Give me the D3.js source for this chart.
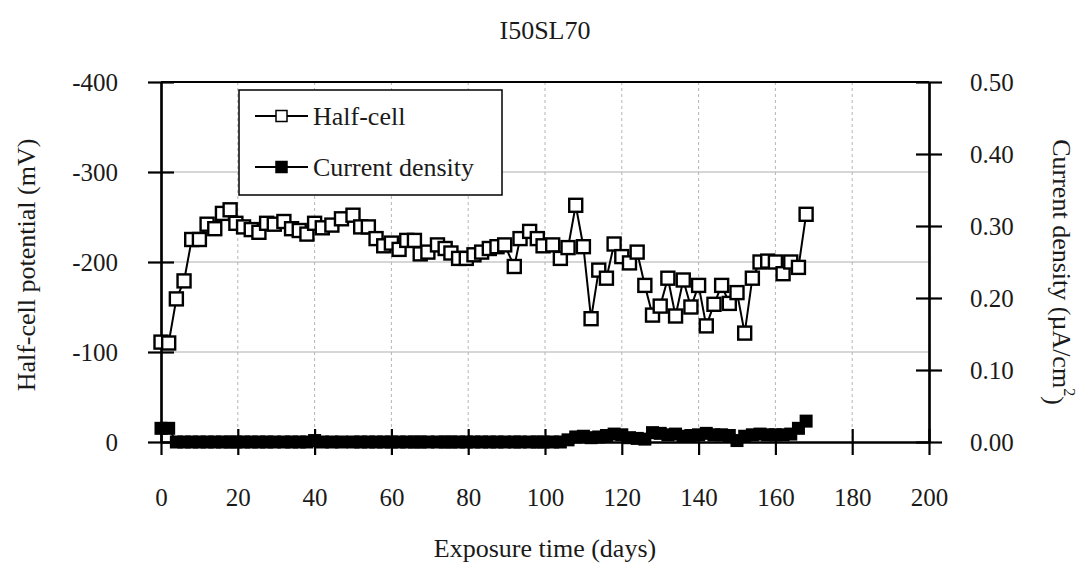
<!DOCTYPE html>
<html>
<head>
<meta charset="utf-8">
<script src="https://cdn.jsdelivr.net/npm/d3@7"></script>
<style>
	body { margin: 0; background: #fff; }
	svg { display: block; font-family: "Liberation Serif", "Times New Roman", serif; }
	.grid_h line { stroke: #c8c8c8; stroke-width: 1.5; }
	.grid_v line { stroke: #b4b4b4; stroke-width: 1; stroke-dasharray: 3,3; }
	.axis path, .axis line { stroke: #000; stroke-width: 2.2; }
	.axis text { font-family: "Liberation Serif", "Times New Roman", serif; font-size: 25px; fill: #1a1a1a; }
</style>
</head>
<body>
<svg width="1089" height="577"></svg>
<script>
'use strict';

var title = 'I50SL70';
var x_ticks = [0, 20, 40, 60, 80, 100, 120, 140, 160, 180, 200];
var left_ticks = [0, -100, -200, -300, -400];
var right_ticks = [0, 0.1, 0.2, 0.3, 0.4, 0.5];

// exposure time (days)
var days = [0, 2, 4, 6, 8, 10, 12, 14, 16, 18, 19.5, 21.5, 23.5, 25.5, 27.5, 29.5, 32, 34, 36, 38,
	40, 42, 44.5, 47, 50, 52, 54, 56, 58, 60, 62, 64, 66, 67.5, 69.5, 72, 74, 75.5, 77.5, 79.5,
	81.5, 83.5, 85.5, 87.5, 89.5, 92, 93.5, 96, 98, 99.5, 102, 104, 106, 108, 110, 112, 114, 116, 118, 120,
	122, 124, 126, 128, 130, 132, 134, 136, 138, 140, 142, 144, 146, 148, 150, 152, 154, 156, 158, 160,
	162, 164, 166, 168];

// half-cell potential (mV)
var half_cell = [-111, -110, -159, -179, -225, -225, -242, -237, -254, -258, -243, -239, -236, -233, -243, -242, -245, -237, -235, -231,
	-243, -238, -241, -248, -252, -239, -239, -226, -218, -221, -214, -224, -224, -209, -211, -219, -215, -210, -204, -204,
	-208, -211, -215, -217, -219, -195, -226, -234, -226, -218, -219, -204, -216, -263, -217, -137, -191, -182, -220, -206,
	-199, -211, -174, -141, -151, -182, -140, -180, -150, -174, -129, -153, -174, -154, -166, -121, -182, -200, -201, -200,
	-187, -200, -194, -253];

// current density (uA/cm2)
var current_density = [0.019, 0.019, 0, 0, 0, 0, 0, 0, 0, 0, 0, 0, 0, 0, 0, 0, 0, 0, 0, 0,
	0.002, 0, 0, 0, 0, 0, 0, 0, 0, 0, 0, 0, 0, 0, 0, 0, 0, 0, 0, 0,
	0, 0, 0, 0, 0, 0, 0, 0, 0, 0, 0, 0, 0.003, 0.007, 0.008, 0.006, 0.007, 0.009, 0.011, 0.010,
	0.006, 0.005, 0.004, 0.013, 0.012, 0.010, 0.011, 0.008, 0.009, 0.010, 0.012, 0.010, 0.010, 0.009, 0.002, 0.008, 0.010, 0.011, 0.010, 0.010,
	0.010, 0.011, 0.019, 0.029];

var legend_labels = ['Half-cell', 'Current density'];

var plot = {left: 161, right: 929, top: 82, bottom: 442};

var svg = d3.select('svg');

var axis_x = d3.scaleLinear().domain([0, 200]).range([plot.left, plot.right]);
var axis_y = d3.scaleLinear().domain([0, -400]).range([plot.bottom, plot.top]);
var axis_y2 = d3.scaleLinear().domain([0, 0.5]).range([plot.bottom, plot.top]);

// Grid
svg.append('g')
	.attr('class', 'grid_h')
	.selectAll('line')
	.data(left_ticks.filter(function(d) { return d !== 0 && d !== -400; }))
	.enter().append('line')
	.attr('x1', plot.left).attr('x2', plot.right)
	.attr('y1', function(d) { return axis_y(d); })
	.attr('y2', function(d) { return axis_y(d); });

svg.append('g')
	.attr('class', 'grid_v')
	.selectAll('line')
	.data(x_ticks.filter(function(d) { return d !== 0 && d !== 200; }))
	.enter().append('line')
	.attr('y1', plot.top).attr('y2', plot.bottom)
	.attr('x1', function(d) { return axis_x(d); })
	.attr('x2', function(d) { return axis_x(d); });

// Axes (ticks cross the axis line, so draw an inner set too)
var tick_len = 13;

var gx = svg.append('g')
	.attr('class', 'axis')
	.attr('transform', 'translate(0,' + plot.bottom + ')')
	.call(d3.axisBottom(axis_x).tickValues(x_ticks).tickSize(tick_len).tickSizeOuter(0));
gx.selectAll('text').attr('y', 55).attr('dy', '0.35em');
svg.append('g')
	.attr('class', 'axis')
	.attr('transform', 'translate(0,' + plot.bottom + ')')
	.call(d3.axisBottom(axis_x).tickValues(x_ticks).tickSize(-tick_len).tickSizeOuter(0).tickFormat(''));

var gl = svg.append('g')
	.attr('class', 'axis')
	.attr('transform', 'translate(' + plot.left + ',0)')
	.call(d3.axisLeft(axis_y).tickValues(left_ticks).tickSize(tick_len).tickSizeOuter(0)
		.tickFormat(function(d) { return String(d); }));
gl.selectAll('text').attr('x', -43);
svg.append('g')
	.attr('class', 'axis')
	.attr('transform', 'translate(' + plot.left + ',0)')
	.call(d3.axisLeft(axis_y).tickValues(left_ticks).tickSize(-tick_len).tickSizeOuter(0).tickFormat(''));

var gr = svg.append('g')
	.attr('class', 'axis')
	.attr('transform', 'translate(' + plot.right + ',0)')
	.call(d3.axisRight(axis_y2).tickValues(right_ticks).tickSize(tick_len).tickSizeOuter(0)
		.tickFormat(d3.format('.2f')));
gr.selectAll('text').attr('x', 41);
svg.append('g')
	.attr('class', 'axis')
	.attr('transform', 'translate(' + plot.right + ',0)')
	.call(d3.axisRight(axis_y2).tickValues(right_ticks).tickSize(-tick_len).tickSizeOuter(0).tickFormat(''));

// top frame line
svg.append('line')
	.attr('x1', plot.left).attr('x2', plot.right)
	.attr('y1', plot.top).attr('y2', plot.top)
	.attr('stroke', '#000').attr('stroke-width', 2.2);

// Series
var half_data = days.map(function(d, i) { return {x: d, y: half_cell[i]}; });
var cd_data = days.map(function(d, i) { return {x: d, y: current_density[i]}; });

var m = 13;

svg.append('path')
	.datum(half_data)
	.attr('fill', 'none')
	.attr('stroke', '#000')
	.attr('stroke-width', 2)
	.attr('d', d3.line()
		.x(function(d) { return axis_x(d.x); })
		.y(function(d) { return axis_y(d.y); }));

svg.append('g')
	.selectAll('rect')
	.data(half_data)
	.enter().append('rect')
	.attr('x', function(d) { return axis_x(d.x) - m / 2; })
	.attr('y', function(d) { return axis_y(d.y) - m / 2; })
	.attr('width', m).attr('height', m)
	.attr('fill', '#fff')
	.attr('stroke', '#000')
	.attr('stroke-width', 2.4);

svg.append('path')
	.datum(cd_data)
	.attr('fill', 'none')
	.attr('stroke', '#000')
	.attr('stroke-width', 2)
	.attr('d', d3.line()
		.x(function(d) { return axis_x(d.x); })
		.y(function(d) { return axis_y2(d.y); }));

svg.append('g')
	.selectAll('rect')
	.data(cd_data)
	.enter().append('rect')
	.attr('x', function(d) { return axis_x(d.x) - m / 2; })
	.attr('y', function(d) { return axis_y2(d.y) - m / 2; })
	.attr('width', m).attr('height', m)
	.attr('fill', '#000');

// Legend
var legend = svg.append('g');
legend.append('rect')
	.attr('x', 239).attr('y', 90)
	.attr('width', 263).attr('height', 105)
	.attr('fill', '#fff')
	.attr('stroke', '#000')
	.attr('stroke-width', 1.5);

legend_labels.forEach(function(label, i) {
	var ly = 116 + i * 51;
	legend.append('line')
		.attr('x1', 255).attr('x2', 308)
		.attr('y1', ly).attr('y2', ly)
		.attr('stroke', '#000').attr('stroke-width', 2);
	legend.append('rect')
		.attr('x', 281.5 - 5.5).attr('y', ly - 5.5)
		.attr('width', 11).attr('height', 11)
		.attr('fill', i === 0 ? '#fff' : '#000')
		.attr('stroke', '#000').attr('stroke-width', 1.5);
	legend.append('text')
		.attr('x', 313).attr('y', ly)
		.attr('dy', '0.35em')
		.style('font-size', '26px')
		.attr('fill', '#1a1a1a')
		.text(label);
});

// Titles
svg.append('text')
	.attr('x', (plot.left + plot.right) / 2).attr('y', 30)
	.attr('dy', '0.35em')
	.style('text-anchor', 'middle')
	.style('font-size', '26px')
	.attr('fill', '#1a1a1a')
	.text(title);

svg.append('text')
	.attr('x', (plot.left + plot.right) / 2).attr('y', 548)
	.attr('dy', '0.35em')
	.style('text-anchor', 'middle')
	.style('font-size', '26px')
	.attr('fill', '#1a1a1a')
	.text('Exposure time (days)');

svg.append('text')
	.attr('transform', 'translate(26,265) rotate(-90)')
	.attr('dy', '0.35em')
	.style('text-anchor', 'middle')
	.style('font-size', '26px')
	.attr('fill', '#1a1a1a')
	.text('Half-cell potential (mV)');

var rt = svg.append('text')
	.attr('transform', 'translate(1062,272) rotate(90)')
	.attr('dy', '0.35em')
	.style('text-anchor', 'middle')
	.style('font-size', '26px')
	.attr('fill', '#1a1a1a');
rt.append('tspan').text('Current density (\u00b5A/cm');
rt.append('tspan').attr('dy', '-0.7em').style('font-size', '16px').text('2');
rt.append('tspan').attr('dy', '0.7em').text(')');
</script>
</body>
</html>
